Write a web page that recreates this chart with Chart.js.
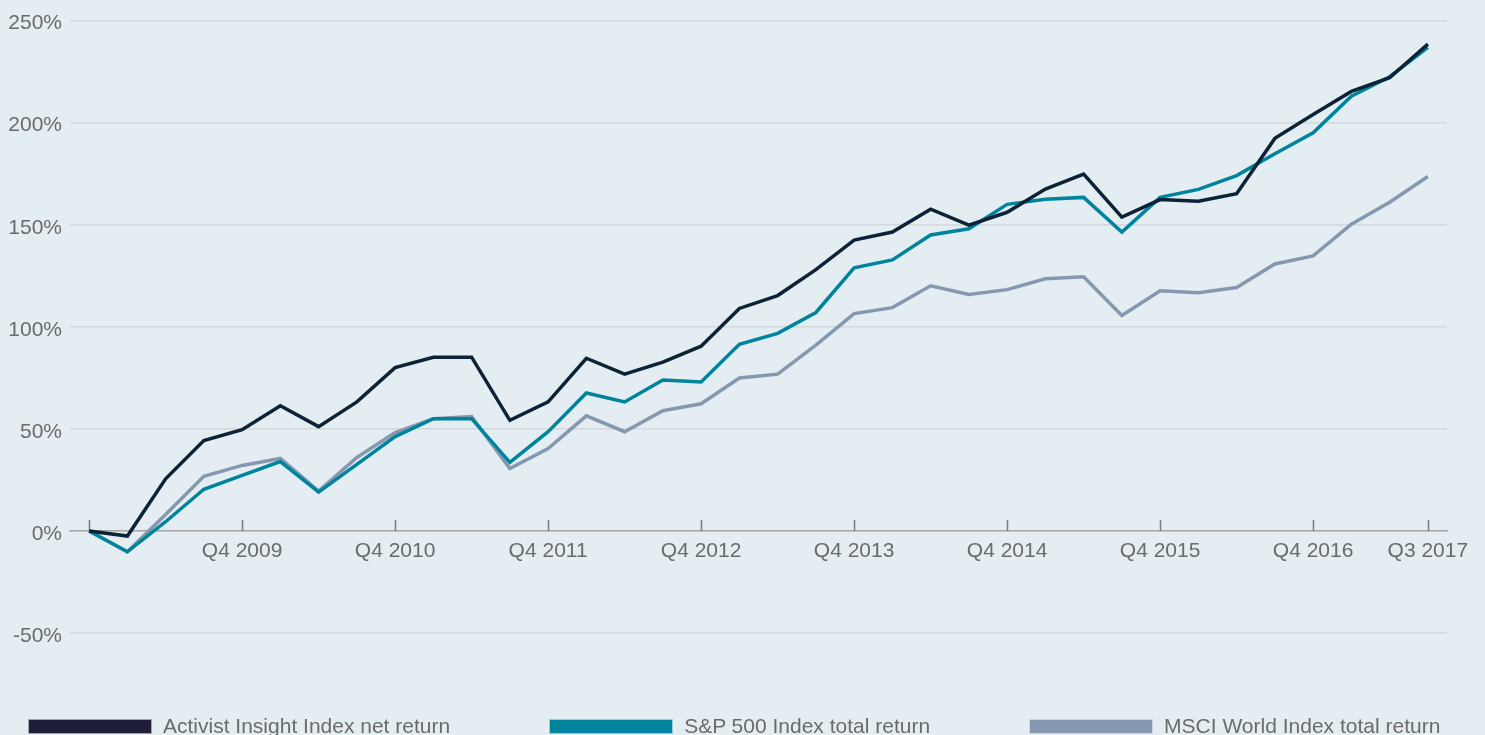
<!DOCTYPE html>
<html>
<head>
<meta charset="utf-8">
<script src="https://cdn.jsdelivr.net/npm/chart.js@4/dist/chart.umd.min.js"></script>
<style>
    html, body { margin: 0; padding: 0; background: #e4edf2; }
    #wrap { position: relative; width: 1485px; height: 735px; overflow: hidden; background: #e4edf2; }
    #chart { position: absolute; left: 0; top: 0; }
    #legend {
        position: absolute; left: 28px; top: 714px;
        display: flex; gap: 99px;
        font-family: "Liberation Sans", Arial, sans-serif; font-size: 21px; color: #6b6b6b;
    }
    .item { display: flex; align-items: center; white-space: nowrap; }
    .swatch { width: 122px; height: 13px; margin-right: 11px; border: 1px solid rgba(255, 255, 255, 0.6); }
</style>
</head>
<body>
<div id="wrap">
    <canvas id="chart" width="1485" height="735"></canvas>
    <div id="legend"></div>
</div>
<script>
const quarters = [
    "Q4 2008",
    "Q1 2009", "Q2 2009", "Q3 2009", "Q4 2009",
    "Q1 2010", "Q2 2010", "Q3 2010", "Q4 2010",
    "Q1 2011", "Q2 2011", "Q3 2011", "Q4 2011",
    "Q1 2012", "Q2 2012", "Q3 2012", "Q4 2012",
    "Q1 2013", "Q2 2013", "Q3 2013", "Q4 2013",
    "Q1 2014", "Q2 2014", "Q3 2014", "Q4 2014",
    "Q1 2015", "Q2 2015", "Q3 2015", "Q4 2015",
    "Q1 2016", "Q2 2016", "Q3 2016", "Q4 2016",
    "Q1 2017", "Q2 2017", "Q3 2017",
];

// cumulative returns, %
const activistReturn = [
    0, -2.5, 25.5, 44.3, 49.6, 61.3, 51.1, 63.2, 80, 85.1, 85.1, 54.2,
    63.2, 84.6, 76.8, 82.7, 90.5, 109, 115.3, 128, 142.5, 146.4, 157.6, 149.8,
    156.1, 167.5, 174.8, 153.7, 162.3, 161.5, 165.2, 192.3, 204, 215.3, 222, 238.5,
];
const sp500Return = [
    0, -10.2, 4.5, 20.4, 27.2, 34, 19, 32.6, 46.2, 55, 55, 33.6,
    48.6, 67.6, 63.2, 73.9, 73, 91.4, 96.8, 107, 128.9, 132.8, 145, 148,
    160, 162.5, 163.4, 146.4, 163.4, 167.3, 174.1, 184.8, 195, 213, 222.5, 236.9,
];
const msciWorldReturn = [
    0, -10.2, 8, 26.8, 32.1, 35.5, 19.5, 36, 48.2, 55, 56, 30.6,
    40.4, 56.4, 48.6, 58.9, 62.3, 74.9, 76.8, 91, 106.5, 109.4, 120.1, 115.8,
    118.2, 123.5, 124.5, 105.5, 117.7, 116.7, 119.2, 130.8, 134.7, 150.3, 161, 173.6,
];

const seriesNames = [
    "Activist Insight Index net return",
    "S&P 500 Index total return",
    "MSCI World Index total return",
];
const seriesColors = ["#0c2337", "#00849e", "#8698b0"];
const legendColors = ["#1f1d39", "#00849e", "#8698b0"];

// quarters that get a tick mark; the first one has no label
const tickQuarters = [
    "Q4 2008", "Q4 2009", "Q4 2010", "Q4 2011", "Q4 2012",
    "Q4 2013", "Q4 2014", "Q4 2015", "Q4 2016", "Q3 2017",
];
const unlabelledQuarters = ["Q4 2008"];

const yTicks = [-50, 0, 50, 100, 150, 200, 250];

const FONT = "'Liberation Sans', Arial, sans-serif";
const TEXT_COLOR = "#6b6b6b";

// small upward tick marks sitting on the 0% axis line
const tickMarks = {
    id: "tickMarks",
    beforeDatasetsDraw(chart) {
        const x = chart.scales.x;
        const y0 = chart.scales.y.getPixelForValue(0);
        const ctx = chart.ctx;
        ctx.save();
        ctx.strokeStyle = "#7a7a7a";
        ctx.lineWidth = 1.5;
        for (const q of tickQuarters) {
            const px = Math.round(x.getPixelForValue(quarters.indexOf(q))) + 0.5;
            ctx.beginPath();
            ctx.moveTo(px, y0);
            ctx.lineTo(px, y0 - 11);
            ctx.stroke();
        }
        ctx.restore();
    },
};

const datasets = [activistReturn, sp500Return, msciWorldReturn].map((data, i) => ({
    label: seriesNames[i],
    data,
    borderColor: seriesColors[i],
    backgroundColor: seriesColors[i],
    borderWidth: 3.5,
    pointRadius: 0,
    tension: 0,
    fill: false,
}));

const config = {
    type: "line",
    data: { labels: quarters, datasets },
    options: {
        responsive: false,
        animation: false,
        layout: { padding: { top: 18, bottom: 102, left: 0, right: 38 } },
        plugins: { legend: { display: false }, tooltip: { enabled: false } },
        scales: {
            x: {
                type: "category",
                offset: true,
                position: { y: 0 },
                grid: { display: false, drawTicks: false },
                border: { display: true, color: "#a8a8a8", width: 1.5 },
                ticks: {
                    autoSkip: false,
                    maxRotation: 0,
                    padding: 8,
                    color: TEXT_COLOR,
                    font: { family: FONT, size: 21 },
                    callback: (value, index) => {
                        const q = quarters[index];
                        if (!tickQuarters.includes(q) || unlabelledQuarters.includes(q)) {
                            return null;
                        }
                        return q;
                    },
                },
            },
            y: {
                min: yTicks[0],
                max: yTicks[yTicks.length - 1],
                afterFit: (scale) => {
                    scale.width = 70;
                },
                afterBuildTicks: (scale) => {
                    scale.ticks = yTicks.map((v) => ({ value: v }));
                },
                grid: { color: "#d3d9dc", lineWidth: 1.5, drawTicks: false },
                border: { display: false },
                ticks: {
                    padding: 8,
                    labelOffset: 3,
                    color: TEXT_COLOR,
                    font: { family: FONT, size: 21 },
                    callback: (value) => `${value}%`,
                },
            },
        },
    },
    plugins: [tickMarks],
};

new Chart(document.getElementById("chart").getContext("2d"), config);

const legendEl = document.getElementById("legend");
for (let i = 0; i < seriesNames.length; i++) {
    const item = document.createElement("div");
    item.className = "item";
    const swatch = document.createElement("span");
    swatch.className = "swatch";
    swatch.style.background = legendColors[i];
    const text = document.createElement("span");
    text.textContent = seriesNames[i];
    item.appendChild(swatch);
    item.appendChild(text);
    legendEl.appendChild(item);
}
</script>
</body>
</html>
